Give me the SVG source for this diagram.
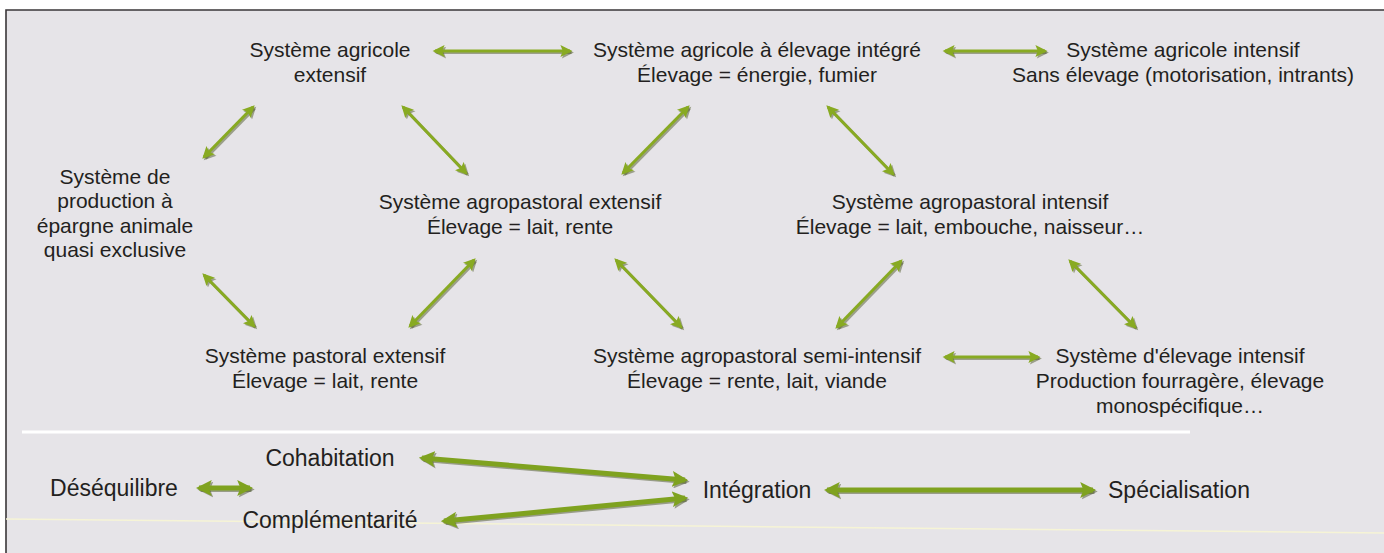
<svg xmlns="http://www.w3.org/2000/svg" width="1384" height="553" viewBox="0 0 1384 553">
<style>
.t{font-family:"Liberation Sans",Arial,sans-serif;font-size:21px;fill:#231f20;text-anchor:middle}
.b{font-size:23px}
.a{fill:none;stroke:#88aa22;stroke-width:3;marker-start:url(#h);marker-end:url(#h)}
.s{fill:none;stroke:#4f5a2a;stroke-opacity:0.5;stroke-width:3;marker-start:url(#hs);marker-end:url(#hs)}
.A{fill:none;stroke:#7fa21f;stroke-width:5;marker-start:url(#H);marker-end:url(#H)}
.S{fill:none;stroke:#4a5428;stroke-opacity:0.5;stroke-width:5;marker-start:url(#HS);marker-end:url(#HS)}
</style>
<defs>
<marker id="h" viewBox="0 0 10 10" refX="8" refY="5" markerWidth="4.4" markerHeight="4" orient="auto-start-reverse" markerUnits="strokeWidth"><path d="M0,0 L10,5 L0,10 L2,5 Z" fill="#88aa22"/></marker>
<marker id="hs" viewBox="0 0 10 10" refX="8" refY="5" markerWidth="4.4" markerHeight="4" orient="auto-start-reverse" markerUnits="strokeWidth"><path d="M0,0 L10,5 L0,10 L2,5 Z" fill="#4f5a2a" fill-opacity="0.5"/></marker>
<marker id="H" viewBox="0 0 10 10" refX="8" refY="5" markerWidth="3.2" markerHeight="3.2" orient="auto-start-reverse" markerUnits="strokeWidth"><path d="M0,0 L10,5 L0,10 L2,5 Z" fill="#7fa21f"/></marker>
<marker id="HS" viewBox="0 0 10 10" refX="8" refY="5" markerWidth="3.2" markerHeight="3.2" orient="auto-start-reverse" markerUnits="strokeWidth"><path d="M0,0 L10,5 L0,10 L2,5 Z" fill="#4a5428" fill-opacity="0.5"/></marker>
</defs>
<rect x="0" y="0" width="1384" height="553" fill="#ffffff"/>
<rect x="6" y="10" width="1378" height="543" fill="#e6e4e8"/>
<path d="M6,553 V10 H1384" fill="none" stroke="#3a3638" stroke-width="1.6"/>
<line x1="22" y1="432" x2="1190" y2="432" stroke="#ffffff" stroke-width="3"/>
<line x1="6" y1="519" x2="1384" y2="533" stroke="#f6f4d6" stroke-width="1.5"/>

<g id="connectors">
<g transform="translate(1.5,1.5)">
<path class="s" d="M435,51 H570"/>
<path class="s" d="M945,51 H1045"/>
<path class="s" d="M945,357 H1038"/>
<path class="s" d="M204,157 L253,107"/>
<path class="s" d="M403,107 L466,173"/>
<path class="s" d="M623,173 L688,107"/>
<path class="s" d="M828,107 L893,174"/>
<path class="s" d="M204,275 L254,326"/>
<path class="s" d="M410,326 L474,260"/>
<path class="s" d="M616,260 L681,327"/>
<path class="s" d="M837,327 L901,261"/>
<path class="s" d="M1070,261 L1135,327"/>
<path class="S" d="M199,488 H250"/>
<path class="S" d="M422,458 L685,480"/>
<path class="S" d="M444,521 L685,498"/>
<path class="S" d="M827,490 H1093"/>
</g>
<path class="a" d="M435,51 H570"/>
<path class="a" d="M945,51 H1045"/>
<path class="a" d="M945,357 H1038"/>
<path class="a" d="M204,157 L253,107"/>
<path class="a" d="M403,107 L466,173"/>
<path class="a" d="M623,173 L688,107"/>
<path class="a" d="M828,107 L893,174"/>
<path class="a" d="M204,275 L254,326"/>
<path class="a" d="M410,326 L474,260"/>
<path class="a" d="M616,260 L681,327"/>
<path class="a" d="M837,327 L901,261"/>
<path class="a" d="M1070,261 L1135,327"/>
<path class="A" d="M199,488 H250"/>
<path class="A" d="M422,458 L685,480"/>
<path class="A" d="M444,521 L685,498"/>
<path class="A" d="M827,490 H1093"/>
</g>

<g id="n-agricole-extensif"><text class="t" x="330" y="57">Système agricole</text><text class="t" x="330" y="82">extensif</text></g>
<g id="n-agricole-integre"><text class="t" x="757" y="57">Système agricole à élevage intégré</text><text class="t" x="757" y="82">Élevage = énergie, fumier</text></g>
<g id="n-agricole-intensif"><text class="t" x="1183" y="57">Système agricole intensif</text><text class="t" x="1183" y="82">Sans élevage (motorisation, intrants)</text></g>
<g id="n-epargne"><text class="t" x="115" y="184">Système de</text><text class="t" x="115" y="208">production à</text><text class="t" x="115" y="233">épargne animale</text><text class="t" x="115" y="257">quasi exclusive</text></g>
<g id="n-agropastoral-extensif"><text class="t" x="520" y="209">Système agropastoral extensif</text><text class="t" x="520" y="234">Élevage = lait, rente</text></g>
<g id="n-agropastoral-intensif"><text class="t" x="970" y="209">Système agropastoral intensif</text><text class="t" x="970" y="234">Élevage = lait, embouche, naisseur…</text></g>
<g id="n-pastoral-extensif"><text class="t" x="325" y="363">Système pastoral extensif</text><text class="t" x="325" y="388">Élevage = lait, rente</text></g>
<g id="n-agropastoral-semi"><text class="t" x="757" y="363">Système agropastoral semi-intensif</text><text class="t" x="757" y="388">Élevage = rente, lait, viande</text></g>
<g id="n-elevage-intensif"><text class="t" x="1180" y="363">Système d'élevage intensif</text><text class="t" x="1180" y="388">Production fourragère, élevage</text><text class="t" x="1180" y="413">monospécifique…</text></g>

<g id="n-desequilibre"><text class="t b" x="114" y="496">Déséquilibre</text></g>
<g id="n-cohabitation"><text class="t b" x="330" y="466">Cohabitation</text></g>
<g id="n-complementarite"><text class="t b" x="330" y="528">Complémentarité</text></g>
<g id="n-integration"><text class="t b" x="757" y="498">Intégration</text></g>
<g id="n-specialisation"><text class="t b" x="1179" y="498">Spécialisation</text></g>
</svg>
